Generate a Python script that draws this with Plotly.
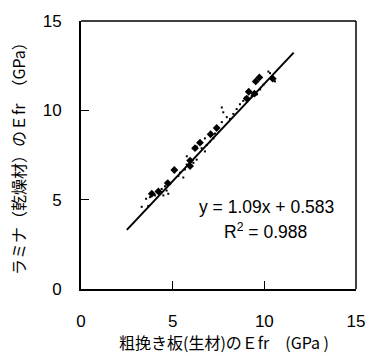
import plotly.graph_objects as go

# large (bold) points
big_x = [3.86, 4.22, 4.73, 5.09, 5.95, 5.95, 6.22, 6.49, 7.07, 7.40, 9.04, 9.15, 9.46, 9.53, 9.73, 10.46]
big_y = [5.33, 5.46, 5.93, 6.66, 7.19, 6.88, 7.88, 8.19, 8.66, 9.01, 10.66, 11.04, 10.93, 11.62, 11.84, 11.77]

# small points
small_x = [3.31, 3.67, 3.55, 3.76, 4.04, 4.40, 4.58, 4.86, 4.67, 4.76, 4.49, 5.31, 5.40, 5.67, 5.77,
           6.13, 6.31, 5.58, 6.58, 6.76, 6.86, 7.04, 7.22, 7.31, 7.68, 7.68, 7.76, 7.95, 8.13, 8.31,
           8.49, 8.67, 8.85, 8.95, 9.31, 9.59, 9.77, 9.95, 10.31, 10.22, 10.58, 6.76, 6.31, 5.77]
small_y = [4.60, 4.65, 5.05, 5.14, 5.24, 5.60, 5.75, 5.87, 5.51, 5.33, 5.24, 6.33, 6.51, 6.69, 6.97,
           7.06, 7.24, 6.24, 7.88, 7.70, 8.06, 8.25, 8.43, 8.70, 9.34, 10.16, 9.89, 9.62, 9.52, 9.80,
           10.07, 10.34, 10.53, 10.71, 10.80, 10.89, 11.17, 11.44, 12.08, 12.17, 11.62, 8.43, 7.97, 7.43]

slope = 1.09
intercept = 0.583
fit_x = [2.5, 11.6]
fit_y = [slope * v + intercept for v in fit_x]

ticks = [0, 5, 10, 15]

fig = go.Figure()
fig.add_trace(go.Scatter(x=small_x, y=small_y, mode="markers",
                         marker=dict(symbol="square", size=2, color="black"), showlegend=False))
fig.add_trace(go.Scatter(x=big_x, y=big_y, mode="markers",
                         marker=dict(symbol="diamond", size=6, color="black"), showlegend=False))
fig.add_trace(go.Scatter(x=fit_x, y=fit_y, mode="lines",
                         line=dict(color="black", width=2), showlegend=False))

font_num = "Liberation Sans, Arial, sans-serif"
font_jp = "Noto Sans CJK JP, sans-serif"

W, H = 377, 356
pl, pr, pt, pb = 81, 21, 15, 67
pw, ph = W - pl - pr, H - pt - pb

def px(xp):
    return (xp - pl) / pw

def py(yp):
    return (H - yp - pb) / ph

fig.update_layout(
    width=W, height=H,
    margin=dict(l=pl, r=pr, t=pt, b=pb),
    paper_bgcolor="white", plot_bgcolor="white",
    xaxis=dict(range=[0, 15], tickvals=ticks, ticks="inside", ticklen=8, tickwidth=1,
               tickcolor="black", showline=True, linecolor="black", linewidth=2,
               showgrid=False, zeroline=False, ticklabelstandoff=16,
               tickfont=dict(family=font_num, size=17, color="black")),
    yaxis=dict(range=[0, 15], tickvals=ticks, ticks="inside", ticklen=8, tickwidth=1,
               tickcolor="black", showline=True, linecolor="black", linewidth=2,
               showgrid=False, zeroline=False, ticklabelstandoff=14,
               tickfont=dict(family=font_num, size=17, color="black")),
    shapes=[
        dict(type="line", xref="paper", yref="paper", x0=0, x1=1, y0=1, y1=1,
             line=dict(color="black", width=1.5)),
        dict(type="line", xref="paper", yref="paper", x0=1, x1=1, y0=0, y1=1,
             line=dict(color="black", width=1.5)),
    ],
    annotations=[
        dict(x=px(266.7), y=py(205), xref="paper", yref="paper",
             xanchor="center", yanchor="middle",
             text="y = 1.09x + 0.583", showarrow=False,
             font=dict(family=font_num, size=17.5, color="black")),
        dict(x=px(265), y=py(230), xref="paper", yref="paper",
             xanchor="center", yanchor="middle",
             text="R<sup>2</sup> = 0.988", showarrow=False,
             font=dict(family=font_num, size=17.5, color="black")),
        dict(x=px(224), y=py(343), xref="paper", yref="paper",
             xanchor="center", yanchor="middle",
             text="粗挽き板(生材)のＥfr　(GPa )", showarrow=False,
             font=dict(family=font_jp, size=16, color="black")),
        dict(x=px(18), y=py(152), xref="paper", yref="paper",
             xanchor="center", yanchor="middle",
             text="ラミナ（乾燥材）のＥfr　（GPa）", showarrow=False, textangle=-90,
             font=dict(family=font_jp, size=16, color="black")),
    ],
)

fig.write_html("out.html")
